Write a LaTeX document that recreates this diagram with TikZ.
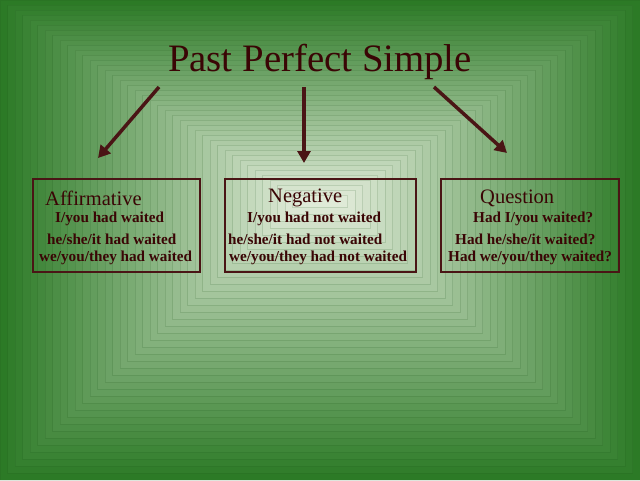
\documentclass[tikz,border=0pt]{standalone}
\usepackage{fontspec}
\setmainfont{Liberation Serif}
\usetikzlibrary{arrows.meta}
\definecolor{edgeg}{HTML}{2C7A26}
\definecolor{centg}{HTML}{E4EDDC}
\definecolor{ink}{HTML}{3A0505}
\definecolor{boxc}{HTML}{4A1515}
\begin{document}
\begin{tikzpicture}[x=1pt,y=-1pt,
  head/.style={anchor=west,text=ink,font=\fontsize{20.5}{22}\selectfont,inner sep=0},
  item/.style={anchor=west,text=ink,font=\bfseries\fontsize{15.2}{17}\selectfont,inner sep=0},
  frame/.style={draw=boxc,line width=1.6pt},
  arr/.style={draw=boxc,line width=3.5pt,-{Triangle[length=12pt,width=13pt]}}]
\useasboundingbox (0,0) rectangle (640,480);
\fill[edgeg] (0,0) rectangle (640,480);
\foreach \i in {0,...,39}{
  \pgfmathsetmacro{\p}{\i*2.5}
  \fill[centg!\p!edgeg,draw=edgeg!70!black,draw opacity=0.15,line width=0.4pt]
    (\i*7.5,\i*5) rectangle (640-\i*7.5,480-\i*7);
}
\node[text=ink,font=\fontsize{38.8}{42}\selectfont] (title) at (320,62) {Past Perfect Simple};
\coordinate (l0) at (159,87); \coordinate (l1) at (98,158);
\coordinate (m0) at (304,87); \coordinate (m1) at (304,163);
\coordinate (r0) at (434,87); \coordinate (r1) at (507,153);
\draw[arr] (l0) -- (l1);
\draw[arr] (m0) -- (m1);
\draw[arr] (r0) -- (r1);
\node[frame,minimum width=167pt,minimum height=93pt,anchor=north west] (aff) at (32,178) {};
\node[frame,minimum width=191pt,minimum height=93pt,anchor=north west] (neg) at (224,178) {};
\node[frame,minimum width=178pt,minimum height=93pt,anchor=north west] (que) at (440,178) {};
\node[head] (a0) at (45,198) {Affirmative};
\node[item] (a1) at (55,219) {I/you had waited};
\node[item] (a2) at (47,239) {he/she/it had waited};
\node[item] (a3) at (39,258) {we/you/they had waited};
\node[head] (n0) at (268,198) {Negative};
\node[item] (n1) at (247,219) {I/you had not waited};
\node[item] (n2) at (228,239) {he/she/it had not waited};
\node[item] (n3) at (229,258) {we/you/they had not waited};
\node[head] (q0) at (480,198) {Question};
\node[item] (q1) at (473,219) {Had I/you waited?};
\node[item] (q2) at (455,239) {Had he/she/it waited?};
\node[item] (q3) at (448,258) {Had we/you/they waited?};
\end{tikzpicture}
\end{document}
